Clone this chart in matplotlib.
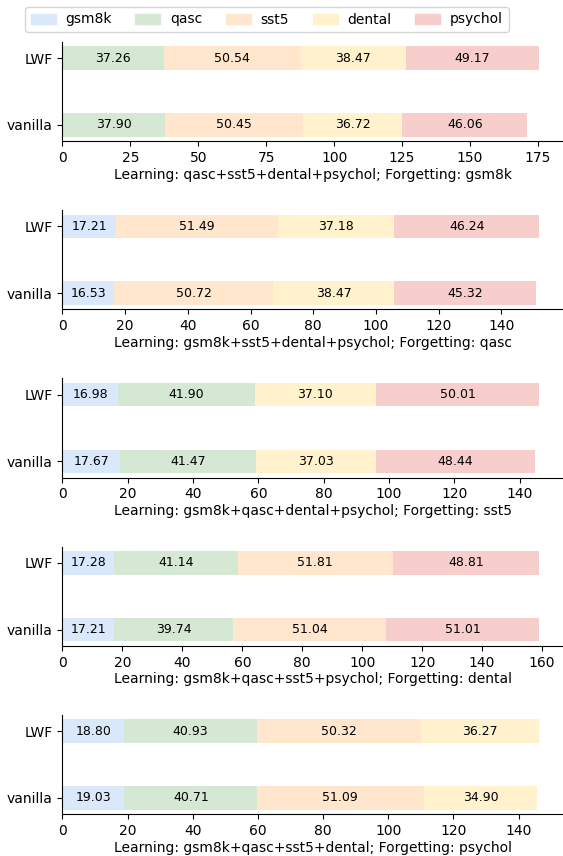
import numpy as np
import matplotlib.pyplot as plt
from matplotlib.patches import Patch

# task names and colours
tasks = ['gsm8k', 'qasc', 'sst5', 'dental', 'psychol']
colors = {'gsm8k': '#dae8fc', 'qasc': '#d5e8d4', 'sst5': '#ffe6cc',
          'dental': '#fff2cc', 'psychol': '#f8cecc'}
methods = ['vanilla', 'LWF']

# one panel per forgotten task; values are [vanilla, LWF]
forget_gsm8k = {'qasc': [37.90, 37.26], 'sst5': [50.45, 50.54],
                'dental': [36.72, 38.47], 'psychol': [46.06, 49.17]}
forget_qasc = {'gsm8k': [16.53, 17.21], 'sst5': [50.72, 51.49],
               'dental': [38.47, 37.18], 'psychol': [45.32, 46.24]}
forget_sst5 = {'gsm8k': [17.67, 16.98], 'qasc': [41.47, 41.90],
               'dental': [37.03, 37.10], 'psychol': [48.44, 50.01]}
forget_dental = {'gsm8k': [17.21, 17.28], 'qasc': [39.74, 41.14],
                 'sst5': [51.04, 51.81], 'psychol': [51.01, 48.81]}
forget_psychol = {'gsm8k': [19.03, 18.80], 'qasc': [40.71, 40.93],
                  'sst5': [51.09, 50.32], 'dental': [34.90, 36.27]}

panels = [('gsm8k', forget_gsm8k), ('qasc', forget_qasc), ('sst5', forget_sst5),
          ('dental', forget_dental), ('psychol', forget_psychol)]

fig, axes = plt.subplots(5, 1, figsize=(5.63, 8.56), dpi=100)
fig.subplots_adjust(left=0.111, right=1.0, top=0.951, bottom=0.049, hspace=0.697)

for ax, (forgot, data) in zip(axes, panels):
    y = np.arange(len(methods))
    left = np.zeros(len(methods))
    for name, vals in data.items():
        bars = ax.barh(y, vals, height=0.35, left=left, color=colors[name])
        ax.bar_label(bars, fmt='%.2f', label_type='center', fontsize=9)
        left += np.array(vals)
    ax.set_yticks(y)
    ax.set_yticklabels(methods)
    learned = '+'.join(t for t in tasks if t != forgot)
    ax.set_xlabel(f'Learning: {learned}; Forgetting: {forgot}', labelpad=2)
    ax.spines['top'].set_visible(False)
    ax.spines['right'].set_visible(False)

handles = [Patch(color=colors[t], label=t) for t in tasks]
fig.legend(handles=handles, ncol=5, loc='upper center', bbox_to_anchor=(0.474, 1.0),
           fontsize=10, handlelength=1.8, columnspacing=1.7, handletextpad=0.7)

plt.savefig('out.png', dpi=100)
